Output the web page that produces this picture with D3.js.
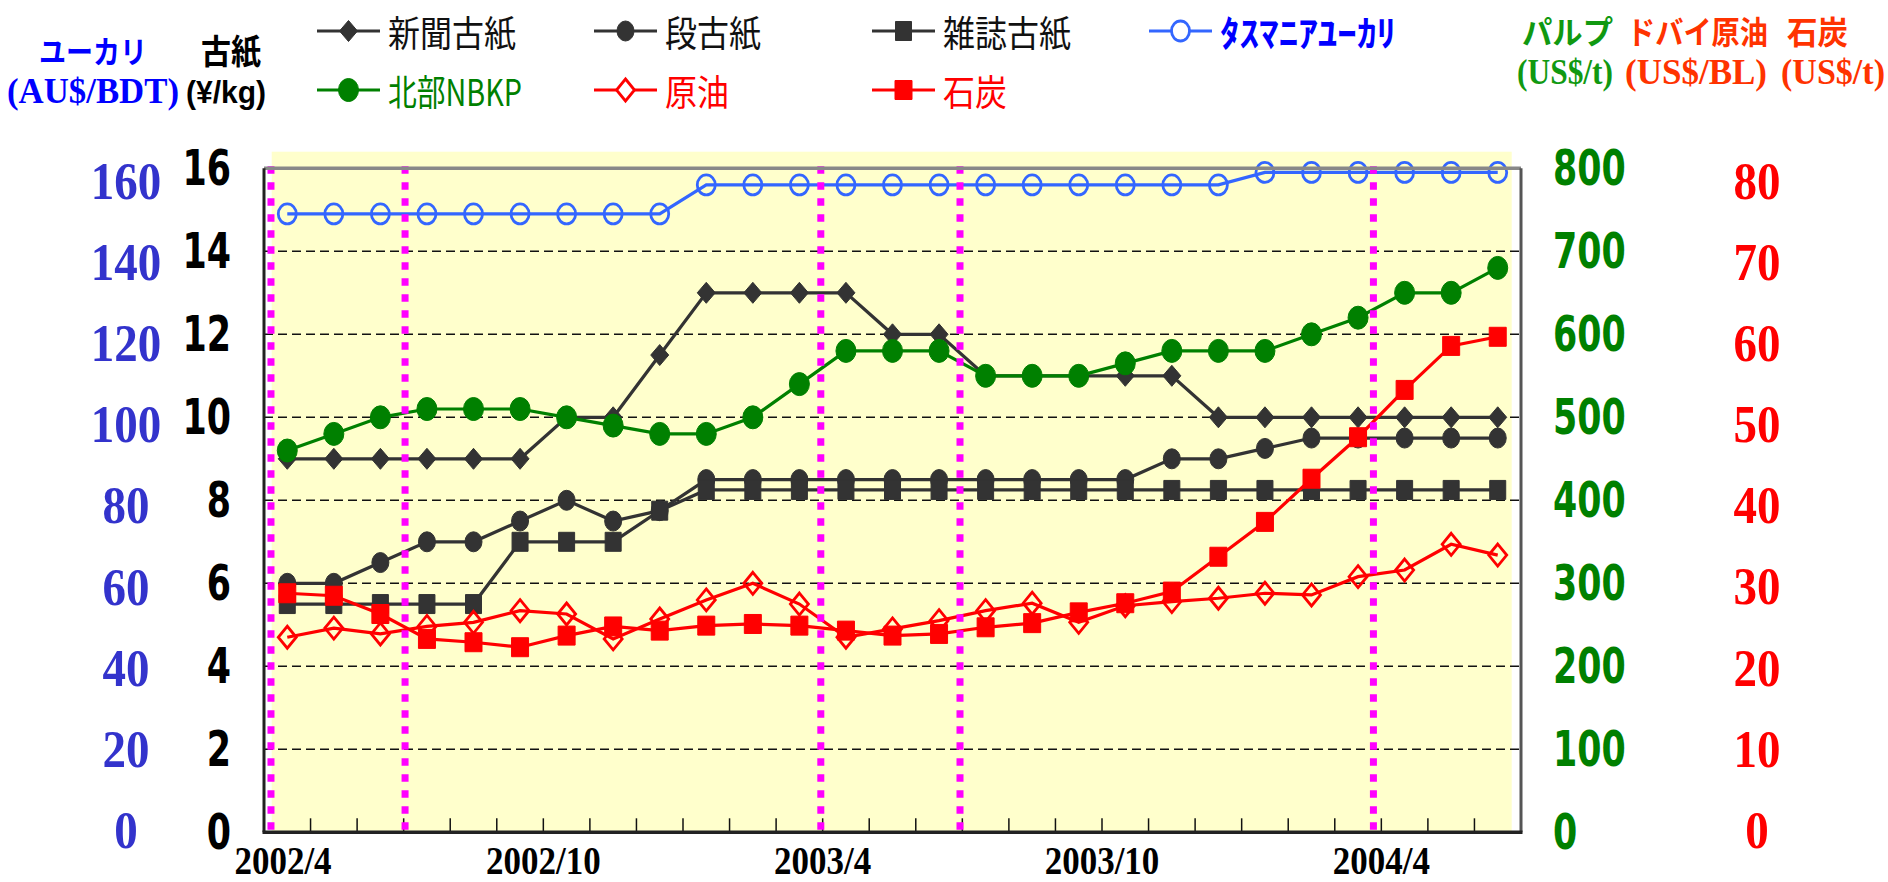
<!DOCTYPE html>
<html>
<head>
<meta charset="utf-8">
<script src="https://cdn.jsdelivr.net/npm/d3@7"></script>
<style>
  body { margin: 0; background: #fff; }
  svg text { dominant-baseline: central; }
  .num-sans { font-family: "Liberation Sans Narrow", "DejaVu Sans Condensed", "Noto Sans", sans-serif; font-weight: bold; font-size: 44px; }
  .num-serif { font-family: "Liberation Serif", "DejaVu Serif", serif; font-weight: bold; font-size: 47px; }
  .xlab { font-family: "Liberation Serif", serif; font-weight: bold; font-size: 35px; }
  .jp { font-family: "Noto Sans CJK JP", sans-serif; }
  .unit { font-family: "Liberation Serif", "Noto Sans CJK JP", serif; font-weight: bold; font-size: 31px; }
</style>
</head>
<body>
<div id="chart"></div>
<script>
// months on the x axis (one point per month)
const months = ["2002/4","2002/5","2002/6","2002/7","2002/8","2002/9","2002/10","2002/11","2002/12",
  "2003/1","2003/2","2003/3","2003/4","2003/5","2003/6","2003/7","2003/8","2003/9","2003/10","2003/11","2003/12",
  "2004/1","2004/2","2004/3","2004/4","2004/5","2004/6"];

// 古紙 (¥/kg)
const shinbun = [9,9,9,9,9,9,10,10,11.5,13,13,13,13,12,12,11,11,11,11,11,10,10,10,10,10,10,10];
const danbo   = [6,6,6.5,7,7,7.5,8,7.5,7.75,8.5,8.5,8.5,8.5,8.5,8.5,8.5,8.5,8.5,8.5,9,9,9.25,9.5,9.5,9.5,9.5,9.5];
const zasshi  = [5.5,5.5,5.5,5.5,5.5,7,7,7,7.75,8.25,8.25,8.25,8.25,8.25,8.25,8.25,8.25,8.25,8.25,8.25,8.25,8.25,8.25,8.25,8.25,8.25,8.25];
// タスマニアユーカリ (AU$/BDT)
const euca    = [149,149,149,149,149,149,149,149,149,156,156,156,156,156,156,156,156,156,156,156,156,159,159,159,159,159,159];
// 北部NBKP (US$/t)
const nbkp    = [460,480,500,510,510,510,500,490,480,480,500,540,580,580,580,550,550,550,565,580,580,580,600,620,650,650,680];
// 原油 (US$/BL), 石炭 (US$/t)
const oil     = [23.5,24.6,23.9,24.8,25.3,26.7,26.3,23.3,25.7,28,30,27.5,23.5,24.5,25.5,26.7,27.6,25.3,27.3,27.8,28.2,28.8,28.6,30.8,31.6,34.7,33.4];
const coal    = [28.8,28.5,26.3,23.3,22.9,22.3,23.7,24.8,24.3,24.9,25.1,24.9,24.3,23.7,23.9,24.7,25.2,26.5,27.6,29.0,33.2,37.4,42.6,47.6,53.3,58.6,59.7];

// tick labels
const paperTicks = [0,2,4,6,8,10,12,14,16];
const eucaTicks  = [0,20,40,60,80,100,120,140,160];
const pulpTicks  = [0,100,200,300,400,500,600,700,800];
const oilTicks   = [0,10,20,30,40,50,60,70,80];
const xTickLabels = ["2002/4","2002/10","2003/4","2003/10","2004/4"];
// dotted magenta markers (in month-index units)
const magentaIdx = [-0.35, 2.53, 11.46, 14.45, 23.33];

const W = 1888, H = 882;
const plot = {left: 264, right: 1521, top: 168.3, bottom: 832.3};
const SY = 1.13; // text in the original is slightly stretched vertically

const svg = d3.select("#chart").append("svg")
    .attr("width", W)
    .attr("height", H);

// scales
const xScale = d3.scaleBand().domain(months).range([plot.left, plot.right]);
const bw = xScale.bandwidth();
const xPos = m => xScale(m) + bw / 2;
const xIdx = d3.scaleLinear().domain([0, months.length - 1])
    .range([xPos(months[0]), xPos(months[months.length - 1])]);

const yPaper = d3.scaleLinear().domain([0, 16]).range([plot.bottom, plot.top]);
const yEuca  = d3.scaleLinear().domain([0, 160]).range([plot.bottom, plot.top]);
const yPulp  = d3.scaleLinear().domain([0, 800]).range([plot.bottom, plot.top]);
const yOil   = d3.scaleLinear().domain([0, 80]).range([plot.bottom, plot.top]);
// the blue and red label columns sit a little off the grid in the original
const yEucaLab = d3.scaleLinear().domain([0, 160]).range([830, 180.7]);
const yOilLab  = d3.scaleLinear().domain([0, 80]).range([830, 180.5]);

function txt(parent, x, y, str, cls, anchor, sx) {
    return parent.append("text")
        .attr("class", cls)
        .attr("transform", `translate(${x},${y}) scale(${sx || 1},${SY})`)
        .attr("text-anchor", anchor || "middle")
        .text(str);
}

function markerPath(type, w, h) {
    if (type === "diamond") return `M0,${-h/2}L${w/2},0L0,${h/2}L${-w/2},0Z`;
    if (type === "square") return `M${-w/2},${-h/2}h${w}v${h}h${-w}Z`;
    return `M${-w/2},0a${w/2},${h/2} 0 1,0 ${w},0a${w/2},${h/2} 0 1,0 ${-w},0Z`;
}

// series table (draw order = legend order)
const series = [
    {name: "新聞古紙", values: shinbun, y: yPaper, color: "#333333", marker: "diamond", w: 18, h: 21, open: false, text: "#111", row: 0, col: 0},
    {name: "段古紙",   values: danbo,   y: yPaper, color: "#333333", marker: "circle",  w: 17, h: 20, open: false, text: "#111", row: 0, col: 1},
    {name: "雑誌古紙", values: zasshi,  y: yPaper, color: "#333333", marker: "square",  w: 16, h: 19, open: false, text: "#111", row: 0, col: 2},
    {name: "ﾀｽﾏﾆｱﾕｰｶﾘ", values: euca, y: yEuca, color: "#3366ff", marker: "circle",  w: 18, h: 20, open: true,  text: "#0000ff", row: 0, col: 3, bold: true, len: 176},
    {name: "北部NBKP", values: nbkp,    y: yPulp,  color: "#008000", marker: "circle",  w: 20, h: 23, open: false, text: "#008000", row: 1, col: 0, len: 134},
    {name: "原油",     values: oil,     y: yOil,   color: "#ff0000", marker: "diamond", w: 18, h: 22, open: true,  text: "#ff0000", row: 1, col: 1},
    {name: "石炭",     values: coal,    y: yOil,   color: "#ff0000", marker: "square",  w: 17, h: 19, open: false, text: "#ff0000", row: 1, col: 2}
];

// yellow background
svg.append("rect")
    .attr("x", 271.7).attr("y", 151.7)
    .attr("width", 1511.7 - 271.7).attr("height", plot.bottom - 151.7)
    .attr("fill", "#ffffcc");

// dashed gridlines
svg.append("g").selectAll("line")
    .data(paperTicks.filter(d => d > 0 && d < 16))
    .enter().append("line")
    .attr("x1", plot.left).attr("x2", plot.right)
    .attr("y1", d => yPaper(d)).attr("y2", d => yPaper(d))
    .attr("stroke", "#111").attr("stroke-width", 1.4)
    .attr("stroke-dasharray", "9 5");

// inner month ticks on the bottom axis
svg.append("g").selectAll("line")
    .data(months.slice(1))
    .enter().append("line")
    .attr("x1", d => xScale(d)).attr("x2", d => xScale(d))
    .attr("y1", plot.bottom).attr("y2", plot.bottom - 14)
    .attr("stroke", "#111").attr("stroke-width", 1.5);

// series lines and markers
series.forEach(s => {
    const line = d3.line()
        .x((d, i) => xPos(months[i]))
        .y(d => s.y(d));
    svg.append("path")
        .datum(s.values)
        .attr("d", line)
        .attr("fill", "none")
        .attr("stroke", s.color)
        .attr("stroke-width", 3.2);
    svg.append("g").selectAll("path")
        .data(s.values)
        .enter().append("path")
        .attr("transform", (d, i) => `translate(${xPos(months[i])},${s.y(d)})`)
        .attr("d", markerPath(s.marker, s.w, s.h))
        .attr("fill", s.open ? "none" : s.color)
        .attr("stroke", s.color)
        .attr("stroke-width", s.open ? 2.8 : 1);
});

// magenta dotted lines
svg.append("g").selectAll("line")
    .data(magentaIdx)
    .enter().append("line")
    .attr("x1", d => xIdx(d)).attr("x2", d => xIdx(d))
    .attr("y1", plot.top - 2).attr("y2", plot.bottom)
    .attr("stroke", "#ff00ff").attr("stroke-width", 7)
    .attr("stroke-dasharray", "7.5 8.5");

// frame
svg.append("line").attr("x1", plot.left).attr("x2", plot.right).attr("y1", plot.top).attr("y2", plot.top)
    .attr("stroke", "#888").attr("stroke-width", 3.5);
svg.append("line").attr("x1", plot.right).attr("x2", plot.right).attr("y1", plot.top).attr("y2", plot.bottom)
    .attr("stroke", "#555").attr("stroke-width", 3);
svg.append("line").attr("x1", plot.left).attr("x2", plot.left).attr("y1", plot.top).attr("y2", plot.bottom)
    .attr("stroke", "#222").attr("stroke-width", 3);
svg.append("line").attr("x1", plot.left - 1.5).attr("x2", plot.right + 1.5).attr("y1", plot.bottom).attr("y2", plot.bottom)
    .attr("stroke", "#222").attr("stroke-width", 3.5);

// axis labels
const gAx = svg.append("g");
paperTicks.forEach(d => txt(gAx, 231, yPaper(d), d, "num-sans", "end", 0.88).attr("fill", "#000"));
pulpTicks.forEach(d => txt(gAx, 1553, yPulp(d), d, "num-sans", "start", 0.88).attr("fill", "#008000"));
eucaTicks.forEach(d => txt(gAx, 126, yEucaLab(d), d, "num-serif").attr("fill", "#3333cc"));
oilTicks.forEach(d => txt(gAx, 1757, yOilLab(d), d, "num-serif").attr("fill", "#ff0000"));

xTickLabels.forEach(m => {
    const x = Math.max(xScale(m), 283);
    txt(gAx, x, 861, m, "xlab").attr("fill", "#000");
});

// axis titles
txt(svg, 93, 50, "ユーカリ", "jp").attr("fill", "#0000ff").style("font-size", "27px").style("font-weight", "bold");
txt(svg, 231, 49, "古紙", "jp").attr("fill", "#000").style("font-size", "30px").style("font-weight", "bold");
txt(svg, 93, 91, "(AU$/BDT)", "unit").attr("fill", "#0000ff").attr("textLength", 172).attr("lengthAdjust", "spacingAndGlyphs");
txt(svg, 226, 92, "(¥/kg)", "num-sans").attr("fill", "#000").style("font-family", "'Liberation Sans', sans-serif").style("font-size", "28px")
    .attr("textLength", 80).attr("lengthAdjust", "spacingAndGlyphs");

txt(svg, 1522, 30, "パルプ", "jp", "start").attr("fill", "#119911").style("font-size", "28px").style("font-weight", "bold")
    .attr("textLength", 91).attr("lengthAdjust", "spacingAndGlyphs");
txt(svg, 1627, 30, "ドバイ原油", "jp", "start").attr("fill", "#ff3300").style("font-size", "28px").style("font-weight", "bold")
    .attr("textLength", 141).attr("lengthAdjust", "spacingAndGlyphs");
txt(svg, 1787, 30, "石炭", "jp", "start").attr("fill", "#ff3300").style("font-size", "28px").style("font-weight", "bold")
    .attr("textLength", 61).attr("lengthAdjust", "spacingAndGlyphs");
txt(svg, 1517, 72, "(US$/t)", "unit", "start").attr("fill", "#119911").attr("textLength", 96).attr("lengthAdjust", "spacingAndGlyphs");
txt(svg, 1625, 72, "(US$/BL)", "unit", "start").attr("fill", "#ff3300").attr("textLength", 142).attr("lengthAdjust", "spacingAndGlyphs");
txt(svg, 1781, 72, "(US$/t)", "unit", "start").attr("fill", "#ff3300").attr("textLength", 104).attr("lengthAdjust", "spacingAndGlyphs");

// legend
const legCols = [317, 594, 872, 1149];
const legRows = [31, 90];
series.forEach(s => {
    const x0 = legCols[s.col], y0 = legRows[s.row];
    const g = svg.append("g");
    g.append("line")
        .attr("x1", x0).attr("x2", x0 + 63)
        .attr("y1", y0).attr("y2", y0)
        .attr("stroke", s.color).attr("stroke-width", 3.2);
    g.append("path")
        .attr("transform", `translate(${x0 + 31.5},${y0})`)
        .attr("d", markerPath(s.marker, s.w, s.h))
        .attr("fill", s.open ? "#fff" : s.color)
        .attr("stroke", s.color)
        .attr("stroke-width", s.open ? 2.8 : 1);
    const t = txt(g, x0 + 71, y0, s.name, "jp", "start")
        .attr("fill", s.text)
        .style("font-size", "32px")
        .style("font-weight", s.bold ? "bold" : "normal");
    if (s.len) t.attr("textLength", s.len).attr("lengthAdjust", "spacingAndGlyphs");
});
</script>
</body>
</html>
